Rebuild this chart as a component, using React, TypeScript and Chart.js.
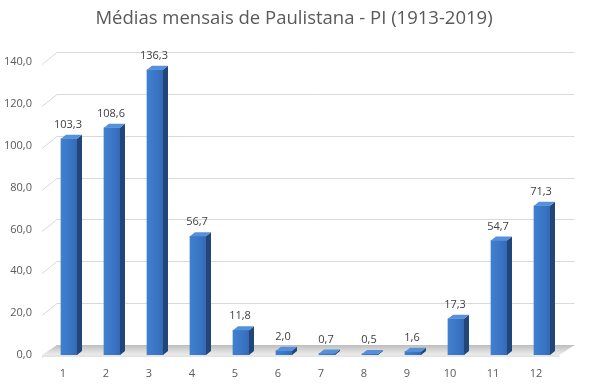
import React, { useEffect, useRef } from "react";
import { Chart, registerables } from "chart.js";

Chart.register(...registerables);

const categories = ["1", "2", "3", "4", "5", "6", "7", "8", "9", "10", "11", "12"];
const values = [103.3, 108.6, 136.3, 56.7, 11.8, 2.0, 0.7, 0.5, 1.6, 17.3, 54.7, 71.3];
const yMin = 0;
const yMax = 140;
const yStep = 20;
const titleText = "Médias mensais de Paulistana - PI (1913-2019)";

const fmt = (v: number) => v.toFixed(1).replace(".", ",");

const FONT = "'Open Sans', 'DejaVu Sans', sans-serif";
const TEXT = "#595959";

const bar3d = {
  id: "bar3d",
  beforeDatasetsDraw(chart: any) {
    const { ctx, chartArea, scales } = chart;
    const y = scales.y;
    const fl = chartArea.left - 5.5;
    const fr = chartArea.right - 4;
    const wdx = 15;
    const wdy = -12;
    const backRight = fr + wdx;
    ctx.save();
    ctx.strokeStyle = "#d9d9d9";
    ctx.lineWidth = 1;
    y.ticks.forEach((t: any) => {
      const yy = Math.round(y.getPixelForValue(t.value) + 2) + 0.5;
      ctx.beginPath();
      ctx.moveTo(fl, yy);
      ctx.lineTo(fl + wdx, yy + wdy);
      ctx.lineTo(backRight, yy + wdy);
      ctx.stroke();
    });
    const y0 = y.getPixelForValue(0);
    const g = ctx.createLinearGradient(0, y0 - 10, 0, y0);
    g.addColorStop(0, "#bdbdbd");
    g.addColorStop(0.5, "#d6d6d6");
    g.addColorStop(1, "#ededed");
    ctx.fillStyle = g;
    ctx.beginPath();
    ctx.moveTo(fl, y0);
    ctx.lineTo(fl + wdx, y0 - 10);
    ctx.lineTo(backRight, y0 - 10);
    ctx.lineTo(fr, y0);
    ctx.closePath();
    ctx.fill();
    ctx.fillStyle = "#e4e4e4";
    ctx.fillRect(fl, y0, fr - fl, 2);
    ctx.restore();
  },
  afterDatasetsDraw(chart: any) {
    const { ctx } = chart;
    const meta = chart.getDatasetMeta(0);
    const dx = 5;
    const dy = -4;
    ctx.save();
    meta.data.forEach((el: any, i: number) => {
      const { x, y, base, width } = el.getProps(["x", "y", "base", "width"], true);
      const l = x - width / 2;
      const r = x + width / 2;
      const fg = ctx.createLinearGradient(l, 0, r, 0);
      fg.addColorStop(0, "#4080d0");
      fg.addColorStop(0.6, "#3a75c4");
      fg.addColorStop(1, "#336ab5");
      ctx.fillStyle = fg;
      ctx.fillRect(l, y, width, base - y);
      ctx.fillStyle = "#22457a";
      ctx.beginPath();
      ctx.moveTo(r, y);
      ctx.lineTo(r + dx, y + dy);
      ctx.lineTo(r + dx, base + dy);
      ctx.lineTo(r, base);
      ctx.closePath();
      ctx.fill();
      ctx.fillStyle = "#5590da";
      ctx.beginPath();
      ctx.moveTo(l, y);
      ctx.lineTo(l + dx, y + dy);
      ctx.lineTo(r + dx, y + dy);
      ctx.lineTo(r, y);
      ctx.closePath();
      ctx.fill();
      ctx.fillStyle = "#404040";
      ctx.font = `11px ${FONT}`;
      ctx.textAlign = "center";
      ctx.textBaseline = "middle";
      ctx.fillText(fmt(values[i]), x - 1, y - 14);
    });
    ctx.restore();
  },
  afterDraw(chart: any) {
    const { ctx } = chart;
    ctx.save();
    ctx.fillStyle = TEXT;
    ctx.font = `18.5px ${FONT}`;
    ctx.textAlign = "center";
    ctx.textBaseline = "middle";
    ctx.fillText(titleText, 294, 19);
    ctx.restore();
  },
};

export default function App() {
  const ref = useRef<HTMLCanvasElement | null>(null);
  useEffect(() => {
    document.body.style.margin = "0";
    const chart = new Chart(ref.current as HTMLCanvasElement, {
      type: "bar",
      data: {
        labels: categories,
        datasets: [
          {
            data: values,
            backgroundColor: "#3a75c4",
            borderWidth: 0,
            barThickness: 16,
          },
        ],
      },
      options: {
        animation: false,
        responsive: true,
        maintainAspectRatio: false,
        layout: { padding: { left: 0, right: 26.5, top: 62, bottom: 0 } },
        plugins: {
          legend: { display: false },
          tooltip: { enabled: false },
          title: { display: false },
        },
        scales: {
          x: {
            grid: { display: false, drawTicks: false },
            border: { display: false },
            ticks: {
              color: TEXT,
              font: { family: FONT, size: 11 },
              labelOffset: -6,
              padding: 12,
              maxRotation: 0,
            },
            afterFit: (s: any) => {
              s.height = 29;
            },
          },
          y: {
            min: yMin,
            max: yMax,
            grid: { display: false, drawTicks: false },
            border: { display: false },
            ticks: {
              stepSize: yStep,
              color: TEXT,
              font: { family: FONT, size: 11 },
              padding: 15.5,
              callback: (v: any) => fmt(Number(v)),
            },
            afterFit: (s: any) => {
              s.width = 47.5;
            },
          },
        },
      },
      plugins: [bar3d],
    });
    return () => chart.destroy();
  }, []);
  return (
    <div style={{ width: 590, height: 384, position: "relative" }}>
      <canvas ref={ref} />
    </div>
  );
}
